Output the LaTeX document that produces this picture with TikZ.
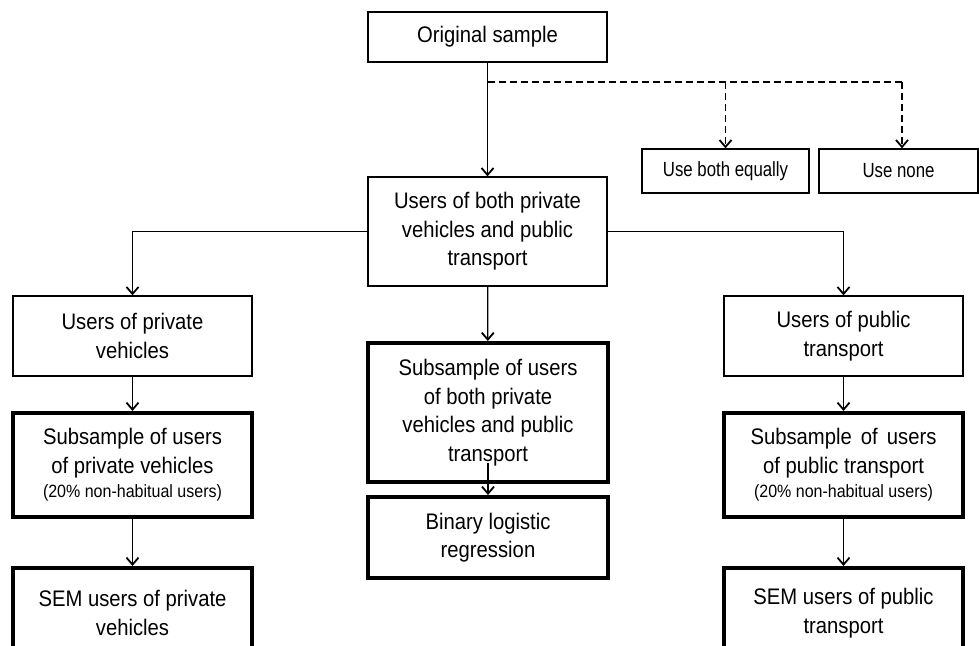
\documentclass[tikz,border=0pt]{standalone}
\usepackage{fontspec}
\setmainfont{Liberation Sans}[FakeStretch=0.90]
\newfontfamily\narf{Liberation Sans}[FakeStretch=0.82]
\usetikzlibrary{arrows.meta}
\newcommand\mainsz{\fontsize{22.5}{28.5}\selectfont}
\newcommand\smallsz{\narf\fontsize{20.5}{24}\selectfont}
\newcommand\tinysz{\fontsize{17.8}{20}\selectfont}
\begin{document}
\begin{tikzpicture}[x=1pt,y=-1pt,
  box/.style={draw, line width=1.3pt, inner sep=0pt, align=center, font=\mainsz, fill=white},
  tbox/.style={box, line width=4pt},
  arr/.style={line width=1.3pt, -{Straight Barb[length=7pt,width=12pt,line width=1.8pt]}},
  dsh/.style={arr, dash pattern=on 7pt off 4pt},
  dline/.style={line width=1.3pt, dash pattern=on 7pt off 4pt}
]
\fill[white] (0,0) rectangle (979,645);
\clip (0,0) rectangle (979,645);
\useasboundingbox (0,0) rectangle (979,645);

% nodes
\node[box, minimum width=239pt, minimum height=50pt] (orig) at (487.5,37) {Original sample};
\node[box, font=\smallsz, minimum width=167pt, minimum height=44pt] (eq) at (725.5,171) {Use both equally};
\node[box, font=\smallsz, minimum width=159pt, minimum height=44pt] (none) at (898.5,171) {Use none};
\node[box, minimum width=239pt, minimum height=109pt] (both) at (487.5,231.5) {Users of both private\\vehicles and public\\transport};
\node[box, minimum width=239pt, minimum height=80pt] (priv) at (132.5,336) {Users of private\\vehicles};
\node[box, minimum width=239pt, minimum height=80pt] (pub) at (843.5,336) {Users of public\\transport};
\node[tbox, minimum width=239pt, minimum height=104pt] (sub1) at (132.5,465) {Subsample of users\\of private vehicles\\[-4pt]{\tinysz (20\% non-habitual users)}};
\node[tbox, minimum width=240pt, minimum height=139pt] (sub2) at (488,412.5) {Subsample of users\\of both private\\vehicles and public\\transport};
\node[tbox, minimum width=240pt, minimum height=81pt] (bin) at (488,537.5) {Binary logistic\\regression};
\node[tbox, minimum width=239pt, minimum height=104pt] (sub3) at (843.5,465) {Subsample\hspace{3.5pt} of\hspace{3.5pt} users\\of public transport\\[-4pt]{\tinysz (20\% non-habitual users)}};
\node[tbox, minimum width=239pt, minimum height=90pt] (sem1) at (132.5,613) {SEM users of private\\vehicles};
\node[tbox, minimum width=239pt, minimum height=90pt] (sem3) at (843.5,613) {SEM users of public\\transport};

% connectors
\coordinate (dj) at (487.5,82);
\coordinate (dc) at (902,82);
\draw[arr] (orig) -- (both);
\draw[dline] (dj) -- (dc);
\draw[dsh] (dc) -- (dc |- none.north);
\draw[dsh] (eq.north |- dj) -- (eq.north);
\draw[arr] (both.west) -| (priv.north);
\draw[arr] (both.east) -| (pub.north);
\draw[arr] (both) -- (sub2);
\coordinate (s2in) at (488,463);
\draw[arr] (s2in) -- (bin.north);
\draw[arr] (priv) -- (sub1);
\draw[arr] (sub1) -- (sem1);
\draw[arr] (pub) -- (sub3);
\draw[arr] (sub3) -- (sem3);
\end{tikzpicture}
\end{document}
